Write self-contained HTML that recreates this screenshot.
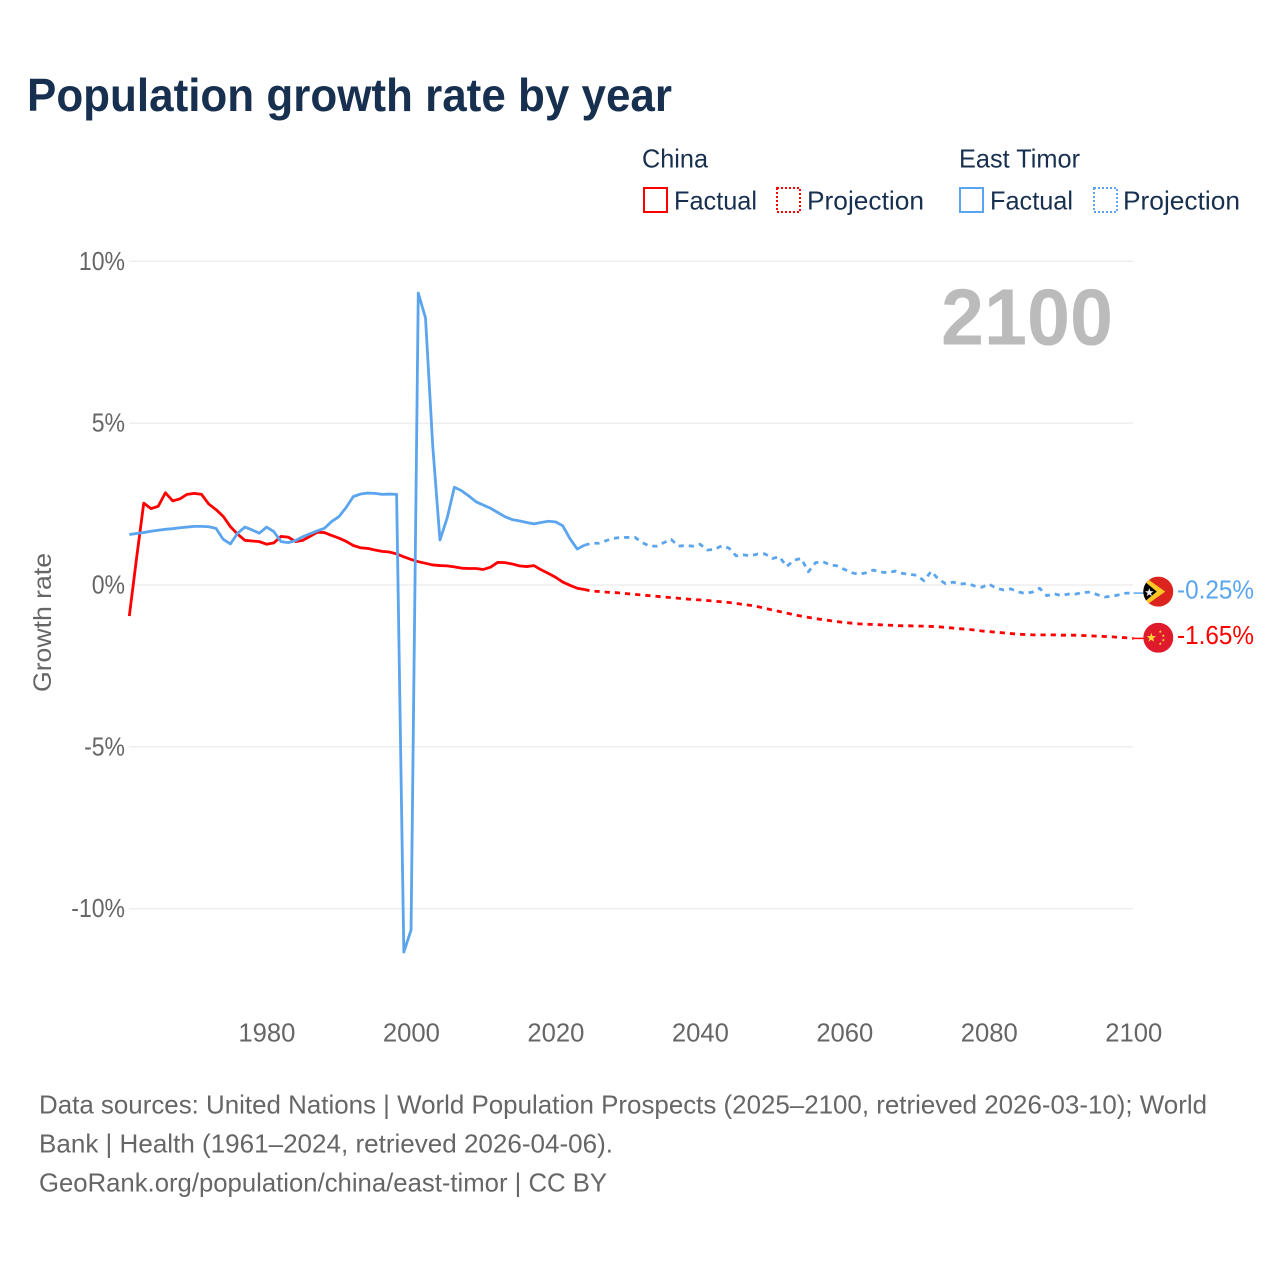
<!DOCTYPE html>
<html lang="en">
<head>
<meta charset="utf-8">
<title>Population growth rate by year</title>
<style>
html,body{margin:0;padding:0;background:#fff;}
svg{display:block;}
text{font-family:"Liberation Sans",sans-serif;}
</style>
</head>
<body>
<svg id="chart" xmlns="http://www.w3.org/2000/svg" width="1280" height="1280" viewBox="0 0 1280 1280">
  <defs>
    <clipPath id="flag-clip"><circle cx="0" cy="0" r="15"/></clipPath>
  </defs>
  <rect width="1280" height="1280" fill="#fff"/>
  <text x="27" y="111" font-size="46" font-weight="700" fill="#17304f" textLength="645" lengthAdjust="spacingAndGlyphs">Population growth rate by year</text>

  <g font-size="26" fill="#17304f">
    <text x="642" y="167.5" textLength="66" lengthAdjust="spacingAndGlyphs">China</text>
    <text x="959" y="167.5" textLength="121" lengthAdjust="spacingAndGlyphs">East Timor</text>
    <rect x="644" y="188" width="23" height="24" fill="none" stroke="#ff0000" stroke-width="2"/>
    <text x="674" y="209.5" textLength="83" lengthAdjust="spacingAndGlyphs">Factual</text>
    <rect x="777" y="188" width="23" height="24" fill="none" stroke="#ff0000" stroke-width="2" stroke-dasharray="2 2"/>
    <text x="807" y="209.5" textLength="117" lengthAdjust="spacingAndGlyphs">Projection</text>
    <rect x="960" y="188" width="23" height="24" fill="none" stroke="#5ba4ee" stroke-width="2"/>
    <text x="990" y="209.5" textLength="83" lengthAdjust="spacingAndGlyphs">Factual</text>
    <rect x="1094" y="188" width="23" height="24" fill="none" stroke="#5ba4ee" stroke-width="2" stroke-dasharray="2 2"/>
    <text x="1123" y="209.5" textLength="117" lengthAdjust="spacingAndGlyphs">Projection</text>
  </g>

  <g id="grid"></g>
  <g id="y-ticks" font-size="26" fill="#666"></g>
  <g id="x-ticks" font-size="26" fill="#666"></g>
  <text transform="translate(51 622.5) rotate(-90)" text-anchor="middle" font-size="25" fill="#666" textLength="139" lengthAdjust="spacingAndGlyphs">Growth rate</text>
  <text x="941" y="344.5" font-size="80" font-weight="700" fill="#bbbbbb" textLength="172" lengthAdjust="spacingAndGlyphs">2100</text>

  <g id="series"></g>
  <g id="ends"></g>

  <g font-size="26" fill="#666">
    <text x="39" y="1113.5" textLength="1168" lengthAdjust="spacingAndGlyphs">Data sources: United Nations | World Population Prospects (2025–2100, retrieved 2026-03-10); World</text>
    <text x="39" y="1152.5" textLength="574" lengthAdjust="spacingAndGlyphs">Bank | Health (1961–2024, retrieved 2026-04-06).</text>
    <text x="39" y="1191.5" textLength="568" lengthAdjust="spacingAndGlyphs">GeoRank.org/population/china/east-timor | CC BY</text>
  </g>
</svg>

<script>
const factualStartYear = 1961;
const projectionStartYear = 2024;
const yTickValues = [10, 5, 0, -5, -10];
const yTickLabels = ["10%", "5%", "0%", "-5%", "-10%"];
const xTickValues = [1980, 2000, 2020, 2040, 2060, 2080, 2100];
const xTickLabels = ["1980", "2000", "2020", "2040", "2060", "2080", "2100"];

const chinaFactual = [-0.96,0.82,2.53,2.36,2.43,2.85,2.6,2.66,2.8,2.83,2.8,2.5,2.33,2.12,1.8,1.57,1.38,1.36,1.34,1.26,1.3,1.5,1.48,1.34,1.38,1.5,1.63,1.62,1.53,1.45,1.35,1.22,1.15,1.13,1.08,1.04,1.02,0.96,0.87,0.79,0.72,0.67,0.62,0.6,0.59,0.56,0.52,0.51,0.51,0.48,0.55,0.7,0.69,0.65,0.59,0.57,0.6,0.47,0.36,0.24,0.09,-0.01,-0.1,-0.14];
const eastTimorFactual = [1.56,1.59,1.62,1.66,1.69,1.72,1.74,1.77,1.79,1.81,1.81,1.8,1.75,1.41,1.27,1.6,1.79,1.7,1.6,1.79,1.65,1.34,1.31,1.37,1.49,1.58,1.67,1.75,1.96,2.11,2.39,2.73,2.81,2.84,2.83,2.8,2.81,2.8,-11.34,-10.66,9.02,8.25,4.3,1.39,2.07,3.02,2.91,2.75,2.57,2.47,2.37,2.24,2.11,2.02,1.98,1.93,1.89,1.93,1.97,1.95,1.83,1.43,1.11,1.23];
const chinaProjection = [-0.14,-0.19,-0.2,-0.22,-0.23,-0.25,-0.27,-0.29,-0.31,-0.33,-0.35,-0.37,-0.39,-0.41,-0.43,-0.45,-0.46,-0.48,-0.5,-0.52,-0.54,-0.57,-0.6,-0.63,-0.67,-0.72,-0.77,-0.82,-0.87,-0.92,-0.96,-1.0,-1.04,-1.07,-1.1,-1.13,-1.16,-1.18,-1.2,-1.21,-1.22,-1.23,-1.24,-1.25,-1.26,-1.26,-1.27,-1.27,-1.28,-1.29,-1.31,-1.33,-1.35,-1.37,-1.39,-1.42,-1.44,-1.46,-1.48,-1.5,-1.52,-1.53,-1.54,-1.54,-1.54,-1.54,-1.55,-1.55,-1.55,-1.56,-1.57,-1.58,-1.59,-1.6,-1.62,-1.63,-1.65];
const eastTimorProjection = [1.23,1.29,1.29,1.37,1.44,1.47,1.47,1.47,1.31,1.2,1.2,1.31,1.41,1.2,1.22,1.2,1.26,1.08,1.1,1.21,1.14,0.9,0.93,0.9,0.96,0.96,0.82,0.87,0.57,0.77,0.82,0.41,0.69,0.72,0.62,0.59,0.48,0.38,0.33,0.38,0.46,0.4,0.38,0.43,0.36,0.33,0.3,0.13,0.42,0.18,0.04,0.09,0.03,0.05,-0.03,-0.07,0.03,-0.1,-0.15,-0.12,-0.21,-0.26,-0.22,-0.1,-0.33,-0.27,-0.33,-0.28,-0.28,-0.23,-0.22,-0.3,-0.37,-0.35,-0.3,-0.25,-0.25];

const NS = "http://www.w3.org/2000/svg";
const RED = "#ff0000";
const BLUE = "#5ba4ee";

function xScale(year) { return 129.3 + (year - 1961) * (1133.5 - 129.3) / 139; }
function yScale(v) { return 585 - v * 32.37; }

function make(parent, tag, attrs, text) {
  const el = document.createElementNS(NS, tag);
  for (const k in attrs) el.setAttribute(k, attrs[k]);
  if (text !== undefined) el.textContent = text;
  parent.appendChild(el);
  return el;
}

function linePath(values, startYear) {
  return values.map((v, i) => (i ? "L" : "M") + xScale(startYear + i).toFixed(2) + " " + yScale(v).toFixed(2)).join(" ");
}

const gridGroup = document.getElementById("grid");
const yGroup = document.getElementById("y-ticks");
yTickValues.forEach((v, i) => {
  const line = make(gridGroup, "line", {x1: 129, x2: 1133, y1: yScale(v), y2: yScale(v), stroke: "#ededed", "stroke-width": 1.4});
  
  
  const lab = make(yGroup, "text", {x: 125, y: yScale(v) + 8.5, "text-anchor": "end"}, yTickLabels[i]);
  
  
  lab.setAttribute("textLength", (lab.getComputedTextLength() * 0.885).toFixed(1));
  lab.setAttribute("lengthAdjust", "spacingAndGlyphs");
});

const xGroup = document.getElementById("x-ticks");
xTickValues.forEach((yr, i) => {
  const lab = make(xGroup, "text", {x: xScale(yr) + 0.3, y: 1041.5, "text-anchor": "middle", textLength: 57, lengthAdjust: "spacingAndGlyphs"}, xTickLabels[i]);
  
  
});

const seriesGroup = document.getElementById("series");
const common = {fill: "none", "stroke-width": 2.8, "stroke-linejoin": "round"};

const p1 = make(seriesGroup, "path", Object.assign({d: linePath(chinaProjection, projectionStartYear), stroke: RED, "stroke-dasharray": "5.2 5"}, common));


const p2 = make(seriesGroup, "path", Object.assign({d: linePath(chinaFactual, factualStartYear), stroke: RED}, common));


const p3 = make(seriesGroup, "path", Object.assign({d: linePath(eastTimorProjection, projectionStartYear), stroke: BLUE, "stroke-dasharray": "5.2 5"}, common));


const p4 = make(seriesGroup, "path", Object.assign({d: linePath(eastTimorFactual, factualStartYear), stroke: BLUE}, common));



const ends = document.getElementById("ends");

function star(cx, cy, r) {
  let pts = [];
  for (let i = 0; i < 10; i++) {
    const rad = i % 2 ? r * 0.4 : r;
    const a = -Math.PI / 2 + i * Math.PI / 5;
    pts.push((cx + rad * Math.cos(a)).toFixed(2) + "," + (cy + rad * Math.sin(a)).toFixed(2));
  }
  return pts.join(" ");
}

// East Timor end marker
const tlEnd = eastTimorProjection[eastTimorProjection.length - 1];
const tlY = yScale(tlEnd);
const tlConn = make(ends, "line", {x1: xScale(2100), x2: 1144, y1: tlY, y2: tlY, stroke: BLUE, "stroke-width": 1.5});


const tlFlag = make(ends, "g", {transform: "translate(1158.3 " + (tlY - 1.5) + ")", "clip-path": "url(#flag-clip)"});


make(tlFlag, "rect", {x: -15, y: -15, width: 30, height: 30, fill: "#dc241f"});
make(tlFlag, "polygon", {points: "-17,-17 7,0 -17,17", fill: "#ffc726"});
make(tlFlag, "polygon", {points: "-16,-12 -1.5,0 -16,12", fill: "#000"});
make(tlFlag, "polygon", {points: star(-9, 1, 4.5), fill: "#eee"});
const tlLabel = make(ends, "text", {x: 1177, y: tlY + 5.5, "font-size": 26, fill: BLUE, textLength: 77, lengthAdjust: "spacingAndGlyphs"}, tlEnd.toFixed(2) + "%");



// China end marker
const cnEnd = chinaProjection[chinaProjection.length - 1];
const cnY = yScale(cnEnd);
const cnConn = make(ends, "line", {x1: xScale(2100), x2: 1144, y1: cnY, y2: cnY, stroke: RED, "stroke-width": 1.5});


const cnFlag = make(ends, "g", {transform: "translate(1158.3 " + (cnY - 0.7) + ")", "clip-path": "url(#flag-clip)"});


make(cnFlag, "rect", {x: -15, y: -15, width: 30, height: 30, fill: "#de1a2c"});
make(cnFlag, "polygon", {points: star(-7, 0, 5), fill: "#ffd83a"});
make(cnFlag, "polygon", {points: star(2, -6, 1.7), fill: "#ffd83a"});
make(cnFlag, "polygon", {points: star(5, -2, 1.7), fill: "#ffd83a"});
make(cnFlag, "polygon", {points: star(5, 2.5, 1.7), fill: "#ffd83a"});
make(cnFlag, "polygon", {points: star(2, 6, 1.7), fill: "#ffd83a"});
const cnLabel = make(ends, "text", {x: 1177, y: cnY + 5.5, "font-size": 26, fill: RED, textLength: 77, lengthAdjust: "spacingAndGlyphs"}, cnEnd.toFixed(2) + "%");


</script>
</body>
</html>
